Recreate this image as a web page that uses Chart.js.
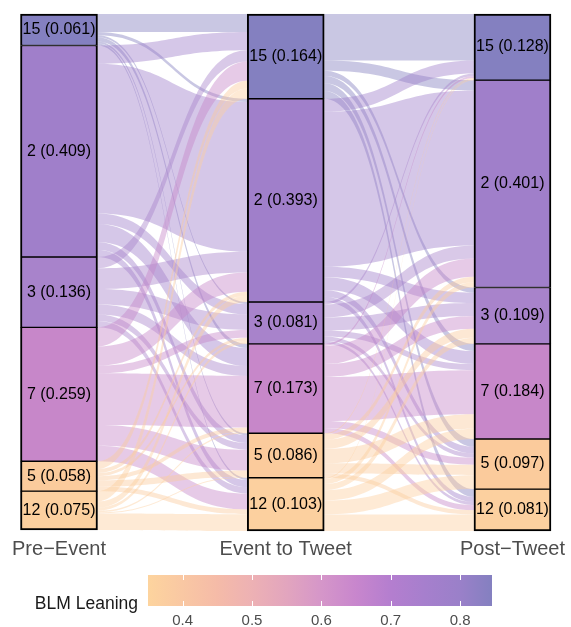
<!DOCTYPE html>
<html lang="en">
<head>
<meta charset="UTF-8">
<title>BLM Leaning alluvial</title>
<script src="https://cdn.jsdelivr.net/npm/chart.js"></script>
<style>
  body { margin: 0; background: #fff; }
  #wrap { width: 571px; height: 627px; position: relative; }
</style>
</head>
<body>
<div id="wrap"><canvas id="myChart"></canvas></div>
<script>
// stages and clusters, top to bottom
const stages = ['Pre−Event', 'Event to Tweet', 'Post−Tweet'];
const clusters = ['15', '2', '3', '7', '5', '12'];
const preEvent = [0.061, 0.409, 0.136, 0.259, 0.058, 0.075];
const eventToTweet = [0.164, 0.393, 0.081, 0.173, 0.086, 0.103];
const postTweet = [0.128, 0.401, 0.109, 0.184, 0.097, 0.081];

// transitions (thousandths), row = from cluster, col = to cluster
const preToEvent = [
  [35, 6, 4, 8, 4, 4],
  [35, 290, 20, 35, 15, 14],
  [22, 40, 30, 19, 13, 12],
  [37, 37, 15, 100, 40, 30],
  [15, 8, 6, 8, 12, 9],
  [20, 12, 6, 3, 2, 32]
];
const eventToPost = [
  [90, 20, 10, 14, 15, 15],
  [25, 300, 20, 25, 13, 10],
  [5, 25, 25, 12, 8, 6],
  [4, 35, 25, 85, 14, 10],
  [2, 11, 17, 28, 20, 8],
  [2, 10, 12, 20, 27, 32]
];

const legendTicks = [0.4, 0.5, 0.6, 0.7, 0.8];
const legendRange = [0.35, 0.846];

// styles
const clusterColors = ['#8480C0', '#A07FCA', '#A883CB', '#C787C9', '#FBCB9C', '#FCD09F'];
const gradientStops = [
  [0.35, '#FDD49E'], [0.45, '#F5BBA8'], [0.5, '#EDB1B4'], [0.55, '#E2A5BE'],
  [0.6, '#D596C9'], [0.65, '#C886CD'], [0.7, '#B47ECF'], [0.75, '#A67FCD'],
  [0.8, '#9A80C9'], [0.846, '#8480C0']
];

Chart.defaults.font.family = "'Liberation Sans', Arial, sans-serif";

const flowPlugin = {
  id: 'flows',
  beforeDatasetsDraw(chart) {
    const ctx = chart.ctx;
    const yScale = chart.scales.y;
    const cols = [preEvent, eventToTweet, postTweet];
    const bars = chart.getDatasetMeta(0).data;
    [preToEvent, eventToPost].forEach((m, s) => {
      const from = cols[s], to = cols[s + 1];
      const x0 = bars[s].x + bars[s].width / 2;
      const x1 = bars[s + 1].x - bars[s + 1].width / 2;
      const xm = (x0 + x1) / 2;
      const rowSum = m.map(r => r.reduce((a, b) => a + b, 0));
      const colSum = clusters.map((_, j) => m.reduce((a, r) => a + r[j], 0));
      const segs = m.map(r => r.map(() => ({})));
      let c = 0;
      from.forEach((v, i) => {
        m[i].forEach((w, j) => {
          const h = w / rowSum[i] * v;
          segs[i][j].s = [c, c + h];
          c += h;
        });
      });
      c = 0;
      to.forEach((v, j) => {
        m.forEach((r, i) => {
          const h = r[j] / colSum[j] * v;
          segs[i][j].d = [c, c + h];
          c += h;
        });
      });
      ctx.save();
      m.forEach((r, i) => {
        r.forEach((w, j) => {
          if (!w) return;
          const sa = yScale.getPixelForValue(segs[i][j].s[0]);
          const sb = yScale.getPixelForValue(segs[i][j].s[1]);
          const da = yScale.getPixelForValue(segs[i][j].d[0]);
          const db = yScale.getPixelForValue(segs[i][j].d[1]);
          ctx.beginPath();
          ctx.moveTo(x0, sa);
          ctx.bezierCurveTo(xm, sa, xm, da, x1, da);
          ctx.lineTo(x1, db);
          ctx.bezierCurveTo(xm, db, xm, sb, x0, sb);
          ctx.closePath();
          ctx.fillStyle = clusterColors[i] + '70';
          ctx.fill();
        });
      });
      ctx.restore();
    });
  }
};

const labelPlugin = {
  id: 'nodeLabels',
  afterDatasetsDraw(chart) {
    const ctx = chart.ctx;
    ctx.save();
    ctx.font = "16px 'Liberation Sans', Arial, sans-serif";
    ctx.fillStyle = '#000';
    ctx.textAlign = 'center';
    ctx.textBaseline = 'middle';
    chart.data.datasets.forEach((ds, k) => {
      chart.getDatasetMeta(k).data.forEach((el, c) => {
        const v = ds.data[c];
        ctx.fillText(clusters[k] + ' (' + v.toFixed(3) + ')', el.x, (el.y + el.base) / 2);
      });
    });
    ctx.restore();
  }
};

const colorbarPlugin = {
  id: 'colorbar',
  afterDraw(chart) {
    const ctx = chart.ctx;
    const left = 148, right = 492, top = 575, bottom = 606;
    const span = legendRange[1] - legendRange[0];
    const xOf = v => left + (v - legendRange[0]) / span * (right - left);
    ctx.save();
    const g = ctx.createLinearGradient(left, 0, right, 0);
    gradientStops.forEach(([v, col]) => g.addColorStop(Math.min(1, Math.max(0, (v - legendRange[0]) / span)), col));
    ctx.fillStyle = g;
    ctx.fillRect(left, top, right - left, bottom - top);
    ctx.strokeStyle = '#fff';
    ctx.lineWidth = 1;
    ctx.font = "15px 'Liberation Sans', Arial, sans-serif";
    ctx.fillStyle = '#4D4D4D';
    ctx.textAlign = 'center';
    ctx.textBaseline = 'middle';
    legendTicks.forEach(v => {
      const x = Math.round(xOf(v)) + 0.5;
      ctx.beginPath();
      ctx.moveTo(x, top); ctx.lineTo(x, top + 5);
      ctx.moveTo(x, bottom - 5); ctx.lineTo(x, bottom);
      ctx.stroke();
      ctx.fillText(v.toFixed(1), xOf(v), 621);
    });
    ctx.font = "17.5px 'Liberation Sans', Arial, sans-serif";
    ctx.fillStyle = '#1A1A1A';
    ctx.textAlign = 'right';
    ctx.textBaseline = 'alphabetic';
    ctx.fillText('BLM Leaning', 138, 609);
    ctx.restore();
  }
};

new Chart(document.getElementById('myChart'), {
  type: 'bar',
  data: {
    labels: stages,
    datasets: clusters.map((name, k) => ({
      label: name,
      data: [preEvent[k], eventToTweet[k], postTweet[k]],
      backgroundColor: clusterColors[k],
      borderColor: '#000',
      borderWidth: { left: 2, right: 2, top: k === 0 ? 2 : 1, bottom: k === clusters.length - 1 ? 2 : 1 },
      borderSkipped: false,
      barThickness: 77,
      clip: false
    }))
  },
  options: {
    responsive: true,
    maintainAspectRatio: false,
    animation: false,
    layout: { padding: { left: 59, right: 55, top: 14, bottom: 60 } },
    plugins: { legend: { display: false }, tooltip: { enabled: false } },
    scales: {
      x: {
        stacked: true,
        offset: false,
        grid: { display: false, drawTicks: false },
        border: { display: false },
        ticks: { color: '#4D4D4D', font: { size: 20 }, padding: 6, maxRotation: 0, autoSkip: false }
      },
      y: { stacked: true, reverse: true, min: 0, max: 1, display: false }
    }
  },
  plugins: [flowPlugin, labelPlugin, colorbarPlugin]
});
</script>
</body>
</html>
